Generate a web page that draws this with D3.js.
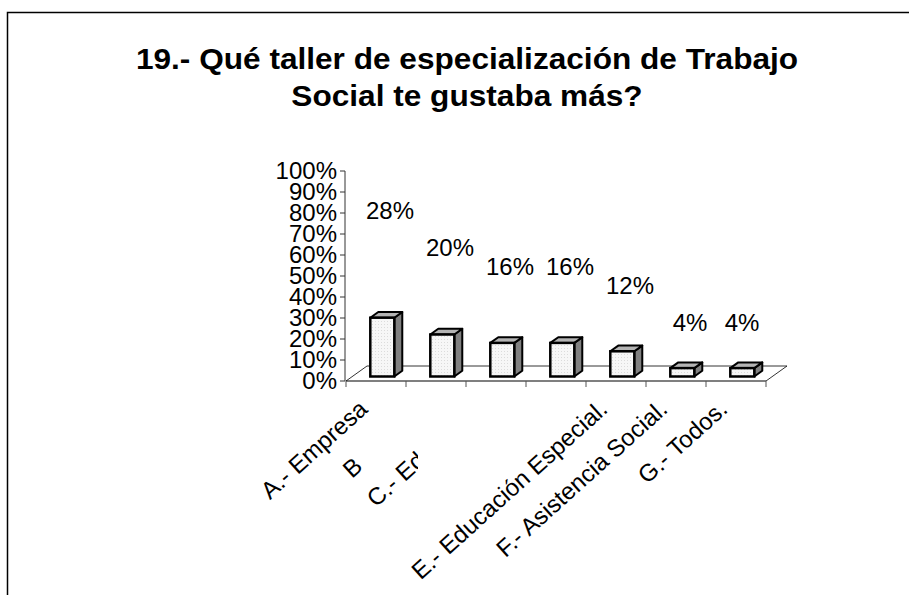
<!DOCTYPE html>
<html>
<head>
<meta charset="utf-8">
<script src="https://cdn.jsdelivr.net/npm/d3@7"></script>
<style>
  body { margin: 0; background: #fff; }
  svg { display: block; font-family: "Liberation Sans", Arial, sans-serif; }
</style>
</head>
<body>
<div id="chart"></div>
<script>
// data
const categories = ["A", "B", "C", "D", "E", "F", "G"];
const catLabels = ["A.- Empresa", "B", "C.- Ed", "", "E.- Educación Especial.", "F.- Asistencia Social.", "G.- Todos."];
const values = [0.28, 0.20, 0.16, 0.16, 0.12, 0.04, 0.04];
const yTicks = [0, 0.1, 0.2, 0.3, 0.4, 0.5, 0.6, 0.7, 0.8, 0.9, 1];
const titleLines = ["19.- Qué taller de especialización de Trabajo", "Social te gustaba más?"];

const w = 909, h = 595;

// 3d floor depth
const depth = { dx: 21, dy: -15 };
const barFront = 0.3, barDepth = 0.38;

const svg = d3.select("#chart").append("svg")
  .attr("width", w).attr("height", h);

// outer frame (runs off the right and bottom)
svg.append("rect")
  .attr("x", 7.5).attr("y", 12.5)
  .attr("width", 950).attr("height", 650)
  .attr("fill", "none").attr("stroke", "#000").attr("stroke-width", 1.5);

// title (slightly stretched like the original)
svg.append("g")
  .attr("transform", "translate(467,0) scale(1.09,1)")
  .selectAll("text")
  .data(titleLines)
  .enter().append("text")
  .attr("x", 0)
  .attr("y", (d, i) => 69 + i * 37)
  .attr("text-anchor", "middle")
  .attr("font-size", 29)
  .attr("font-weight", "bold")
  .text(d => d);

const x = d3.scaleBand().domain(categories)
  .range([346, 766]).paddingInner(0.6).paddingOuter(0.3);
const y = d3.scaleLinear().domain([0, 1]).range([381, 171]);
// labels sit on their own (steeper) projection
const yLabel = d3.scaleLinear().domain([0, 1]).range([349.5, 349.5 - 466]);

// floor
const x0 = x.range()[0], x1 = x.range()[1], yb = y(0);
svg.append("path")
  .attr("d", `M${x0},${yb} L${x0 + depth.dx},${yb + depth.dy} L${x1 + depth.dx},${yb + depth.dy} L${x1},${yb}`)
  .attr("fill", "none").attr("stroke", "#000").attr("stroke-width", 0.8);
svg.append("line")
  .attr("x1", x0).attr("x2", x1).attr("y1", yb).attr("y2", yb)
  .attr("stroke", "#000").attr("stroke-width", 1.2);

// category ticks
const step = x.step();
svg.append("g").selectAll("line")
  .data(d3.range(categories.length + 1))
  .enter().append("line")
  .attr("x1", i => x0 + i * step).attr("x2", i => x0 + i * step)
  .attr("y1", yb).attr("y2", yb + 6)
  .attr("stroke", "#555").attr("stroke-width", 1);

// value axis
const yAxis = svg.append("g").attr("transform", `translate(${x0 - 1},0)`);
yAxis.append("line").attr("y1", y(0)).attr("y2", y(1)).attr("stroke", "#333");
yAxis.selectAll("line.tick").data(yTicks).enter().append("line")
  .attr("class", "tick")
  .attr("x1", -5).attr("x2", 0)
  .attr("y1", d => y(d)).attr("y2", d => y(d))
  .attr("stroke", "#333");
yAxis.selectAll("text").data(yTicks).enter().append("text")
  .attr("x", -8).attr("y", d => y(d)).attr("dy", "0.35em")
  .attr("text-anchor", "end").attr("font-size", 24)
  .text(d => d3.format(".0%")(d));

// bars
const defs = svg.append("defs");
const pat = defs.append("pattern").attr("id", "dots")
  .attr("width", 3).attr("height", 3).attr("patternUnits", "userSpaceOnUse");
pat.append("rect").attr("width", 3).attr("height", 3).attr("fill", "#f7f7f7");
pat.append("rect").attr("width", 1).attr("height", 1).attr("fill", "#dcdcdc");

const bars = svg.append("g").selectAll("g")
  .data(values).enter().append("g");

const fx = (i) => x(categories[i]) + depth.dx * barFront;
const fy = (v) => y(v) + depth.dy * barFront;
const ddx = depth.dx * barDepth, ddy = depth.dy * barDepth;
const bw = x.bandwidth();

bars.append("path") // side
  .attr("d", (d, i) => {
    const l = fx(i) + bw, t = fy(d), b = fy(0);
    return `M${l},${b} L${l},${t} L${l + ddx},${t + ddy} L${l + ddx},${b + ddy} Z`;
  })
  .attr("fill", "#808080").attr("stroke", "#000").attr("stroke-width", 2).attr("stroke-linejoin", "round");
bars.append("path") // top
  .attr("d", (d, i) => {
    const l = fx(i), t = fy(d);
    return `M${l},${t} L${l + ddx},${t + ddy} L${l + bw + ddx},${t + ddy} L${l + bw},${t} Z`;
  })
  .attr("fill", "#b4b4b4").attr("stroke", "#000").attr("stroke-width", 2).attr("stroke-linejoin", "round");
bars.append("rect") // front
  .attr("x", (d, i) => fx(i)).attr("y", d => fy(d))
  .attr("width", bw).attr("height", d => fy(0) - fy(d))
  .attr("fill", "url(#dots)").attr("stroke", "#000").attr("stroke-width", 2.5);

// data labels
svg.append("g").selectAll("text")
  .data(values).enter().append("text")
  .attr("x", (d, i) => x(categories[i]) + x.bandwidth() / 2 + (i < 6 ? 14 : 6))
  .attr("y", d => yLabel(d))
  .attr("text-anchor", "middle").attr("font-size", 24)
  .text(d => d3.format(".0%")(d));

// category labels, rotated; B and C are cut short in the original
const clipped = { 1: { dx: -84, dy: 98 }, 2: { dx: -120, dy: 127 } };
// the "d" of "C.- Ed" is cut off by a vertical edge
defs.append("clipPath").attr("id", "cutC")
  .append("rect").attr("x", 0).attr("y", 0).attr("width", x(categories[2]) - 66).attr("height", h);

const labelG = svg.append("g").selectAll("g")
  .data(catLabels).enter().append("g")
  .attr("clip-path", (d, i) => i === 2 ? "url(#cutC)" : null);

labelG.append("text")
  .attr("transform", (d, i) => {
    const cx = x(categories[i]) + x.bandwidth() / 2;
    if (clipped[i]) return `translate(${cx + clipped[i].dx},${yb + clipped[i].dy}) rotate(-42)`;
    return `translate(${cx - 7},${yb + 30}) rotate(-42)`;
  })
  .attr("text-anchor", (d, i) => clipped[i] ? "start" : "end")
  .attr("font-size", 24)
  .text(d => d);
</script>
</body>
</html>
